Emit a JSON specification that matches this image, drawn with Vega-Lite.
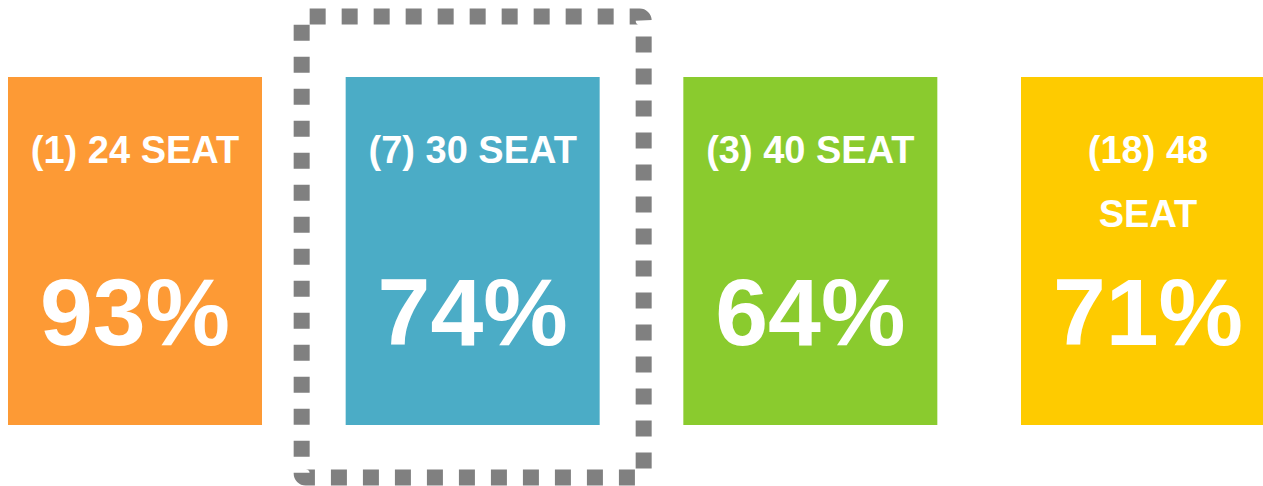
{
  "$schema": "https://vega.github.io/schema/vega-lite/v6.json",
  "width": 1263,
  "height": 486,
  "padding": 0,
  "autosize": {"type": "none"},
  "background": "white",
  "config": {"view": {"stroke": null}, "font": "Liberation Sans"},
  "data": {"values": [
    {"group": "24 SEAT", "label": "(1) 24 SEAT", "load": 0.93, "highlight": false},
    {"group": "30 SEAT", "label": "(7) 30 SEAT", "load": 0.74, "highlight": true},
    {"group": "40 SEAT", "label": "(3) 40 SEAT", "load": 0.64, "highlight": false},
    {"group": "48 SEAT", "label": "(18) 48\nSEAT", "load": 0.71, "highlight": false}
  ]},
  "encoding": {
    "x": {"field": "group", "type": "nominal", "axis": null,
      "sort": ["24 SEAT", "30 SEAT", "40 SEAT", "48 SEAT"],
      "scale": {"type": "band", "range": [0, 1283], "paddingInner": 0.24778, "paddingOuter": 0.02369}}
  },
  "layer": [
    {
      "mark": {"type": "rect"},
      "encoding": {
        "y": {"datum": "tile", "type": "nominal", "axis": null,
          "scale": {"type": "band", "domain": ["tile"], "paddingInner": 0, "paddingOuter": 0.1983, "align": 0.558}},
        "color": {"field": "group", "type": "nominal", "legend": null,
          "scale": {"domain": ["24 SEAT", "30 SEAT", "40 SEAT", "48 SEAT"], "range": ["#FD9A35", "#4BACC6", "#8ACB2E", "#FECB00"]}}
      }
    },
    {
      "transform": [{"filter": "datum.highlight"}],
      "mark": {"type": "bar", "filled": false, "fill": null, "stroke": "#808080", "strokeWidth": 16, "strokeDash": [16, 16], "strokeDashOffset": 28, "cornerRadius": 4, "width": 342, "height": 461, "yOffset": -4},
      "encoding": {
        "y": {"datum": "tile", "type": "nominal"}
      }
    },
    {
      "mark": {"type": "text", "color": "white", "fontWeight": "bold", "fontSize": 38, "baseline": "alphabetic", "align": "center", "lineBreak": "\n", "lineHeight": 64},
      "encoding": {
        "y": {"datum": "tile", "type": "nominal", "bandPosition": 0.247},
        "text": {"field": "label", "type": "nominal"}
      }
    },
    {
      "mark": {"type": "text", "color": "white", "fontWeight": "bold", "fontSize": 95, "baseline": "alphabetic", "align": "center"},
      "encoding": {
        "y": {"datum": "tile", "type": "nominal", "bandPosition": 0.77},
        "text": {"field": "load", "type": "quantitative", "format": ".0%"}
      }
    }
  ]
}
